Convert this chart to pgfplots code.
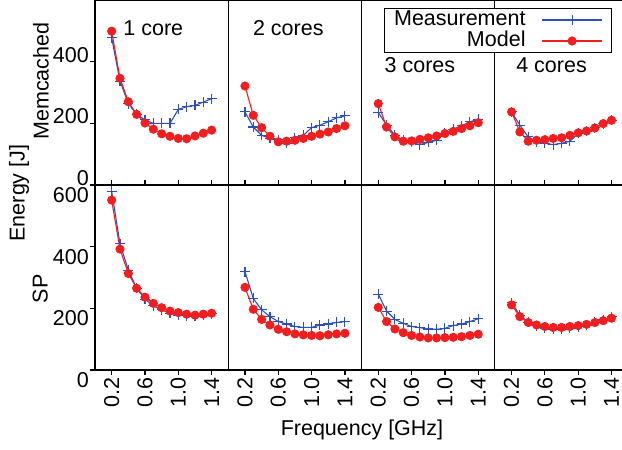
\documentclass[border=0pt]{standalone}
\usepackage{fontspec}
\setmainfont{Liberation Sans}
\usepackage{pgfplots}
\pgfplotsset{compat=1.18}
\usepgfplotslibrary{groupplots}
\usetikzlibrary{calc}
\definecolor{mblue}{RGB}{45,80,190}
\definecolor{mred}{RGB}{240,30,30}
\pgfplotsset{
 meas/.style={color=mblue, line width=1.1pt, mark=+, mark size=5pt, mark options={line width=1.1pt}},
 model/.style={color=mred, line width=1.1pt, mark=*, mark size=4pt, mark options={fill=mred, draw=mred}},
}
\begin{document}
\begin{tikzpicture}[font=\fontsize{21.5}{24}\selectfont]
\begin{groupplot}[
 group style={group size=4 by 2, horizontal sep=0pt, vertical sep=0pt,
   xticklabels at=edge bottom, yticklabels at=edge left, group name=G},
 width=133.3pt, height=185pt, scale only axis,
 xmin=0, xmax=1.6, ymin=0, ymax=600,
 xtick={0.2,0.6,1.0,1.4},
 tick align=outside,
 axis line style={line width=1.2pt},
 major tick length=5pt,
 every tick/.style={black, line width=1.2pt},
 /pgf/number format/assume math mode=true,
 xticklabel style={rotate=90, anchor=east, inner sep=2pt, /pgf/number format/.cd, fixed, fixed zerofill, precision=1},
 yticklabel style={inner sep=1pt},
]
% ---------- top row: Memcached
\nextgroupplot[ytick={0,200,400}, ytick pos=left, xtick style={draw=none}, yticklabel style={yshift=7pt},
  ylabel={Memcached}, ylabel style={at={(axis description cs:-0.405,0.562)}, anchor=center}]
\addplot[meas] coordinates {(0.2,478)(0.3,337)(0.4,264)(0.5,229)(0.6,211)(0.7,200)(0.8,200)(0.9,200)(1.0,245)(1.1,254)(1.2,258)(1.3,269)(1.4,280)};
\addplot[model] coordinates {(0.2,499)(0.3,346)(0.4,270)(0.5,229)(0.6,201)(0.7,181)(0.8,166)(0.9,158)(1.0,151)(1.1,150)(1.2,159)(1.3,168)(1.4,178)};
\node at (axis cs:0.7,510) {1 core};
\nextgroupplot[ytick=\empty, xtick style={draw=none}]
\addplot[meas] coordinates {(0.2,237)(0.3,188)(0.4,161)(0.5,151)(0.6,147)(0.7,135)(0.8,154)(0.9,161)(1.0,186)(1.1,194)(1.2,205)(1.3,218)(1.4,224)};
\addplot[model] coordinates {(0.2,321)(0.3,226)(0.4,186)(0.5,158)(0.6,140)(0.7,142)(0.8,145)(0.9,151)(1.0,158)(1.1,165)(1.2,172)(1.3,183)(1.4,192)};
\node at (axis cs:0.72,510) {2 cores};
\nextgroupplot[ytick=\empty, xtick style={draw=none}]
\addplot[meas] coordinates {(0.2,235)(0.3,194)(0.4,161)(0.5,145)(0.6,138)(0.7,131)(0.8,138)(0.9,145)(1.0,167)(1.1,181)(1.2,192)(1.3,205)(1.4,213)};
\addplot[model] coordinates {(0.2,264)(0.3,188)(0.4,156)(0.5,142)(0.6,143)(0.7,148)(0.8,153)(0.9,159)(1.0,167)(1.1,174)(1.2,183)(1.3,192)(1.4,202)};
\node at (axis cs:0.7,390) {3 cores};
\nextgroupplot[ytick=\empty, xtick style={draw=none},
  legend style={at={(axis description cs:0.88,0.957)}, anchor=north east, draw=black, line width=1.1pt,
    legend cell align=right, column sep=15pt, inner xsep=9pt, inner ysep=1pt, row sep=0pt,
    nodes={inner sep=1pt, text height=15pt, text depth=4pt}},
  legend plot pos=right,
  legend image code/.code={\draw[mark repeat=2,mark phase=2,#1] plot coordinates {(0pt,0pt) (30pt,0pt) (60pt,0pt)};}]
\addplot[meas] coordinates {(0.2,237)(0.3,194)(0.4,156)(0.5,140)(0.6,135)(0.7,131)(0.8,135)(0.9,142)(1.0,167)(1.1,175)(1.2,185)(1.3,199)(1.4,210)};
\addplot[model] coordinates {(0.2,237)(0.3,172)(0.4,142)(0.5,145)(0.6,147)(0.7,151)(0.8,153)(0.9,161)(1.0,169)(1.1,175)(1.2,185)(1.3,199)(1.4,210)};
\legend{Measurement, Model}
\node at (axis cs:0.68,390) {4 cores};
% ---------- bottom row: SP
\nextgroupplot[ytick={0,200,400,600}, ytick pos=left, xtick pos=both, yticklabel style={yshift=-10pt},
  ylabel={SP}, ylabel style={at={(axis description cs:-0.41,0.438)}, anchor=center}]
\addplot[meas] coordinates {(0.2,580)(0.3,409)(0.4,324)(0.5,265)(0.6,230)(0.7,208)(0.8,195)(0.9,184)(1.0,178)(1.1,176)(1.2,175)(1.3,178)(1.4,182)};
\addplot[model] coordinates {(0.2,551)(0.3,392)(0.4,313)(0.5,265)(0.6,236)(0.7,216)(0.8,202)(0.9,191)(1.0,186)(1.1,181)(1.2,178)(1.3,181)(1.4,184)};
\nextgroupplot[ytick=\empty, xtick pos=both]
\addplot[meas] coordinates {(0.2,319)(0.3,232)(0.4,195)(0.5,173)(0.6,157)(0.7,149)(0.8,141)(0.9,138)(1.0,138)(1.1,146)(1.2,149)(1.3,154)(1.4,157)};
\addplot[model] coordinates {(0.2,268)(0.3,197)(0.4,164)(0.5,146)(0.6,132)(0.7,124)(0.8,117)(0.9,114)(1.0,112)(1.1,111)(1.2,114)(1.3,117)(1.4,119)};
\nextgroupplot[ytick=\empty, xtick pos=both]
\addplot[meas] coordinates {(0.2,246)(0.3,191)(0.4,164)(0.5,151)(0.6,141)(0.7,137)(0.8,133)(0.9,132)(1.0,135)(1.1,144)(1.2,149)(1.3,157)(1.4,166)};
\addplot[model] coordinates {(0.2,203)(0.3,157)(0.4,133)(0.5,121)(0.6,112)(0.7,107)(0.8,104)(0.9,104)(1.0,105)(1.1,106)(1.2,108)(1.3,112)(1.4,116)};
\nextgroupplot[ytick=\empty, xtick pos=both]
\addplot[meas] coordinates {(0.2,218)(0.3,178)(0.4,154)(0.5,143)(0.6,136)(0.7,133)(0.8,133)(0.9,135)(1.0,141)(1.1,146)(1.2,154)(1.3,162)(1.4,173)};
\addplot[model] coordinates {(0.2,211)(0.3,173)(0.4,154)(0.5,146)(0.6,141)(0.7,138)(0.8,138)(0.9,141)(1.0,144)(1.1,148)(1.2,154)(1.3,160)(1.4,168)};
\end{groupplot}
\node[rotate=90] at ($(G c1r2.south west)+(-76pt,177pt)$) {Energy [J]};
\node at ($(G c1r2.south west)+(267pt,-60pt)$) {Frequency [GHz]};
\pgfresetboundingbox
\path[use as bounding box] ($(G c1r2.south west)+(-95pt,-80pt)$) rectangle ($(G c1r1.north west)+(527pt,0pt)$);
\end{tikzpicture}
\end{document}
